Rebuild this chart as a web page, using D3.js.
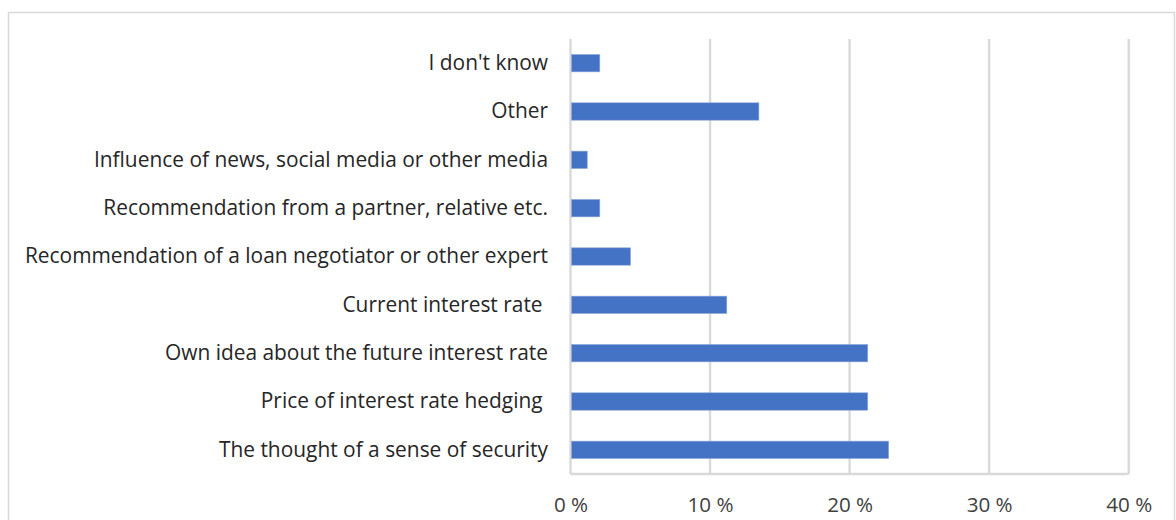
<!DOCTYPE html>
<html>
<head>
<meta charset="utf-8">
<script src="https://cdn.jsdelivr.net/npm/d3@7"></script>
<style>
  html, body { margin: 0; padding: 0; background: #fff; }
  svg { display: block; }
</style>
</head>
<body>
<svg id="chart" width="1176" height="520"></svg>
<script>
// Reasons for the choice of interest rate type (share of respondents)
const categories = [
  "I don't know",
  "Other",
  "Influence of news, social media or other media",
  "Recommendation from a partner, relative etc.",
  "Recommendation of a loan negotiator or other expert",
  "Current interest rate ",
  "Own idea about the future interest rate",
  "Price of interest rate hedging ",
  "The thought of a sense of security"
];
const values = [2.1, 13.5, 1.2, 2.1, 4.3, 11.2, 21.3, 21.3, 22.8];
const tickValues = [0, 10, 20, 30, 40];
const tickLabels = ["0 %", "10 %", "20 %", "30 %", "40 %"];

const svg = d3.select("#chart");
const fontFamily = "'Open Sans', sans-serif";

// chart frame
svg.append("rect")
  .attr("x", 8.5).attr("y", 12.5)
  .attr("width", 1166).attr("height", 520)
  .attr("fill", "#fff")
  .attr("stroke", "#d9d9d9")
  .attr("stroke-width", 1.5);

const plot = { left: 570.5, right: 1128.7, top: 39, bottom: 474 };

const x = d3.scaleLinear().domain([0, 40]).range([plot.left, plot.right]);
const y = d3.scaleBand().domain(categories).range([plot.top, plot.bottom]).paddingInner(0.64).paddingOuter(0.32);

// vertical gridlines
svg.append("g")
  .selectAll("line")
  .data(tickValues)
  .join("line")
  .attr("x1", d => x(d)).attr("x2", d => x(d))
  .attr("y1", plot.top).attr("y2", plot.bottom)
  .attr("stroke", "#d9d9d9")
  .attr("stroke-width", 2.4);

// baseline along the bottom
svg.append("line")
  .attr("x1", plot.left).attr("x2", plot.right)
  .attr("y1", plot.bottom).attr("y2", plot.bottom)
  .attr("stroke", "#d9d9d9")
  .attr("stroke-width", 2.4);

// bars
svg.append("g")
  .selectAll("rect")
  .data(values)
  .join("rect")
  .attr("x", x(0) + 1)
  .attr("y", (d, i) => y(categories[i]))
  .attr("width", d => x(d) - x(0) - 1)
  .attr("height", y.bandwidth())
  .attr("fill", "#4472c4")
  .attr("stroke", "#8fa9dc")
  .attr("stroke-width", 0.6);

// category labels
const yAxis = d3.axisLeft(y).tickSize(0).tickPadding(0);
const gy = svg.append("g")
  .attr("transform", `translate(548,0)`)
  .call(yAxis);
gy.select(".domain").remove();
gy.selectAll("text")
  .attr("font-family", fontFamily)
  .attr("font-size", 20.9)
  .attr("fill", "#262626")
  .style("white-space", "pre");

// x axis tick labels
const xAxis = d3.axisBottom(x).tickValues(tickValues)
  .tickFormat((d, i) => tickLabels[i]).tickSize(0).tickPadding(0);
const gx = svg.append("g")
  .attr("transform", `translate(0,497)`)
  .call(xAxis);
gx.select(".domain").remove();
gx.selectAll("text")
  .attr("font-family", fontFamily)
  .attr("font-size", 20.6)
  .attr("fill", "#404040");
</script>
</body>
</html>
